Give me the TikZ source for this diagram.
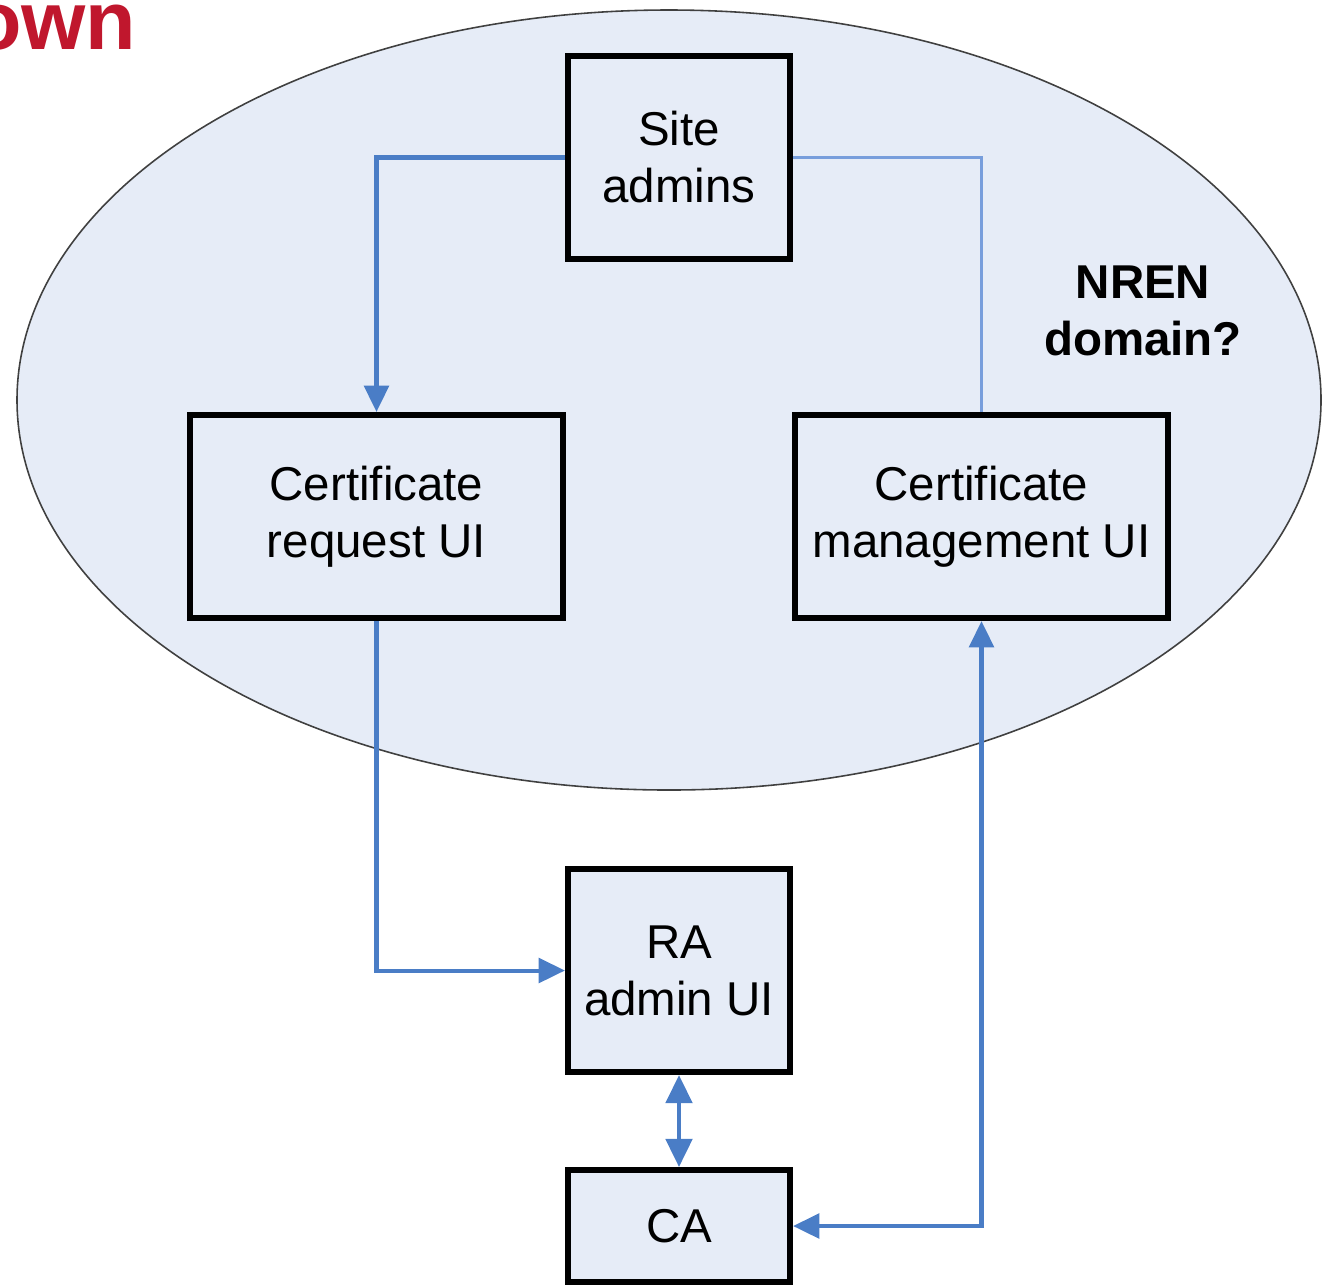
\documentclass[tikz,border=0pt]{standalone}
\usepackage{fontspec}
\setmainfont{Liberation Sans}
\usetikzlibrary{arrows.meta}
\definecolor{fillblue}{RGB}{230,236,247}
\definecolor{lineblue}{RGB}{74,125,198}
\definecolor{thinblue}{RGB}{120,158,220}
\definecolor{titlered}{RGB}{192,23,45}
\tikzset{
  box/.style={draw=black, line width=1.7pt, fill=fillblue, align=center,
    font=\fontsize{13.5}{16.2}\selectfont, inner sep=0pt},
  conn/.style={draw=lineblue, line width=1.15pt,
    -{Triangle[length=7.5pt,width=7pt]}},
  thinconn/.style={draw=thinblue, line width=0.6pt},
}
\begin{document}
\begin{tikzpicture}[x=0.01cm,y=-0.01cm]
\useasboundingbox (0,0) rectangle (1325,1284);
\clip (0,0) rectangle (1325,1284);
\node[anchor=base east, text=titlered, font=\fontsize{23.5}{26}\selectfont\bfseries, inner sep=0pt] (title) at (137,49) {own};
\draw[draw=black!75, line width=0.45pt, fill=fillblue] (669,400) ellipse [x radius=652, y radius=390];
\node[box, minimum width=2.22cm, minimum height=2.03cm] (sa) at (679,157.5) {Site\\admins};
\node[box, minimum width=3.73cm, minimum height=2.03cm] (cr) at (376.5,516.5) {Certificate\\request UI};
\node[box, minimum width=3.73cm, minimum height=2.03cm] (cm) at (981.5,516.5) {Certificate\\management UI};
\node[box, minimum width=2.22cm, minimum height=2.03cm] (ra) at (679,970.5) {RA\\admin UI};
\node[box, minimum width=2.22cm, minimum height=1.12cm] (ca) at (679,1226) {CA};
\node[align=center, font=\fontsize{13.5}{16.2}\selectfont\bfseries, inner sep=0pt] (nren) at (1143,311) {NREN\\domain?};
\draw[conn] (sa.west) -| (cr.north);
\draw[thinconn] (sa.east) -| (cm.north);
\draw[conn] (cr.south) |- (ra.west);
\draw[conn, {Triangle[length=7.5pt,width=7pt]}-{Triangle[length=7.5pt,width=7pt]}] (cm.south) |- (ca.east);
\draw[conn, {Triangle[length=8pt,width=7.5pt]}-{Triangle[length=8pt,width=7.5pt]}] (ra.south) -- (ca.north);
\end{tikzpicture}
\end{document}
